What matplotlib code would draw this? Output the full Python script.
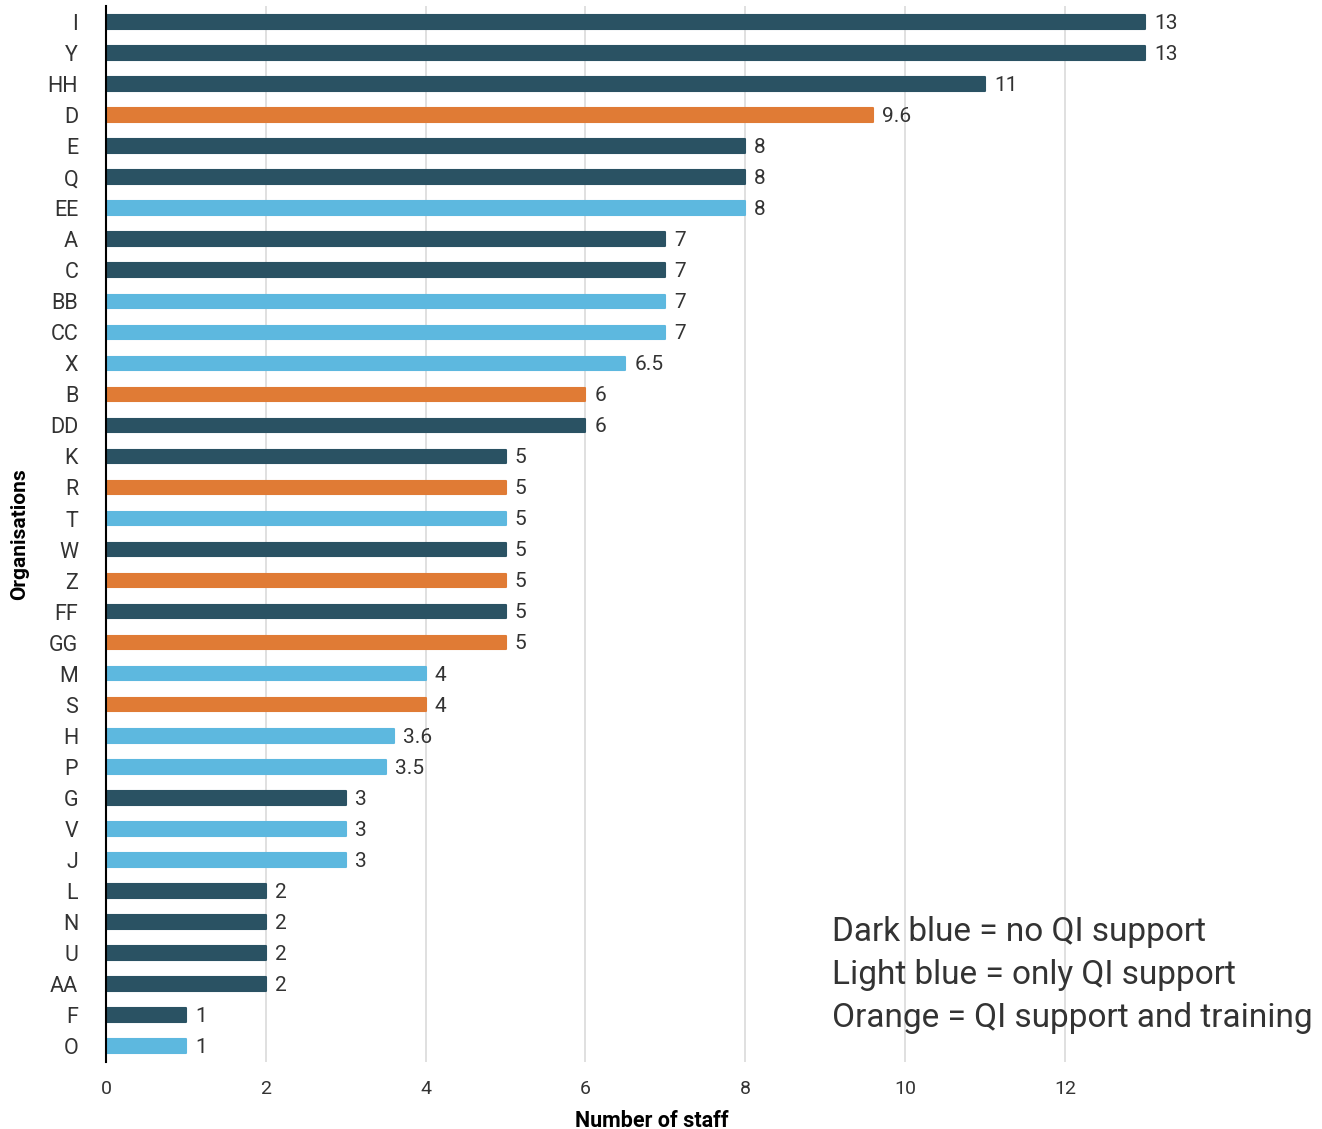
import matplotlib
matplotlib.use("Agg")
import matplotlib.pyplot as plt

plt.rcParams["font.family"] = ["Roboto", "DejaVu Sans"]

DARK, LIGHT, ORANGE = "#2a5263", "#5db8df", "#e07b35"
TEXT = "#333333"

orgs = ["I", "Y", "HH", "D", "E", "Q", "EE", "A", "C", "BB", "CC", "X", "B",
        "DD", "K", "R", "T", "W", "Z", "FF", "GG", "M", "S", "H", "P", "G",
        "V", "J", "L", "N", "U", "AA", "F", "O"]
staff = [13, 13, 11, 9.6, 8, 8, 8, 7, 7, 7, 7, 6.5, 6, 6, 5, 5, 5, 5, 5, 5, 5,
         4, 4, 3.6, 3.5, 3, 3, 3, 2, 2, 2, 2, 1, 1]
# d = no QI support, l = only QI support, o = QI support and training
group = ["d", "d", "d", "o", "d", "d", "l", "d", "d", "l", "l", "l", "o",
         "d", "d", "o", "l", "d", "o", "d", "o", "l", "o", "l", "l", "d",
         "l", "l", "d", "d", "d", "d", "d", "l"]
legend_lines = ["Dark blue = no QI support",
                "Light blue = only QI support",
                "Orange = QI support and training"]

palette = {"d": DARK, "l": LIGHT, "o": ORANGE}
colors = [palette[g] for g in group]

fig = plt.figure(figsize=(13.22, 11.29), dpi=100)
ax = fig.add_axes([0.0802, 0.0593, 0.816, 0.9354])

y = list(range(len(orgs)))
ax.barh(y, staff, height=0.44, color=colors, edgecolor=colors,
        linewidth=1.5, joinstyle="round", zorder=3)
for yi, v in zip(y, staff):
    ax.annotate(f"{v:g}", (v, yi), xytext=(6.5, -1), textcoords="offset points",
                va="center", ha="left", fontsize=15, color=TEXT)

ax.set_ylim(len(orgs) - 0.48, -0.52)
ax.set_xlim(0, 13.5)
ax.set_yticks(y)
ax.set_yticklabels(orgs)
ax.set_xticks(range(0, 13, 2))
ax.tick_params(axis="y", length=0, pad=20, labelsize=15.5, labelcolor=TEXT)
ax.tick_params(axis="x", length=0, pad=13, labelsize=14, labelcolor=TEXT)

ax.grid(axis="x", color="#dddddd", linewidth=1.3, zorder=0)
for s in ("top", "right", "bottom"):
    ax.spines[s].set_visible(False)
ax.spines["left"].set_linewidth(1.5)
ax.spines["left"].set_color("black")
ax.spines["left"].set_zorder(4)

ax.set_xlabel("Number of staff", fontsize=15.5, fontweight="bold", color="black")
ax.set_ylabel("Organisations", fontsize=15, fontweight="bold", color="black")
ax.xaxis.set_label_coords(0.506, -0.045)
ax.yaxis.set_label_coords(-0.071, 0.5)

for i, line in enumerate(legend_lines):
    fig.text(832 / 1322, 1 - (932 + 43 * i) / 1129, line, fontsize=24,
             color=TEXT, va="center", ha="left")

fig.savefig("out.png", dpi=100, facecolor="white")
